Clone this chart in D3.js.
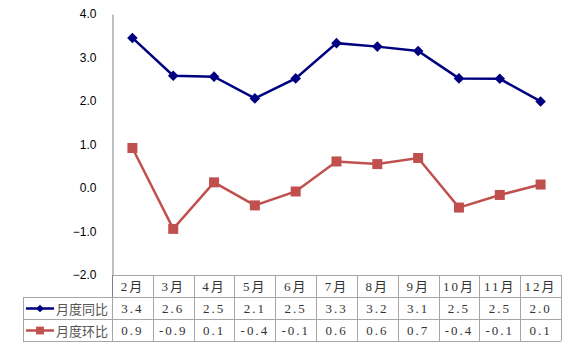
<!DOCTYPE html>
<html>
<head>
<meta charset="utf-8">
<title>月度同比 / 月度环比</title>
<script src="https://d3js.org/d3.v7.min.js"></script>
<style>
  body { margin: 0; background: #fff; }
</style>
</head>
<body>
<script>
var months = ["2月", "3月", "4月", "5月", "6月", "7月", "8月", "9月", "10月", "11月", "12月"];
var yoy = [3.45, 2.58, 2.56, 2.06, 2.52, 3.33, 3.25, 3.15, 2.52, 2.51, 1.99];
var mom = [0.92, -0.94, 0.13, -0.40, -0.08, 0.61, 0.55, 0.69, -0.45, -0.16, 0.08];
var yoyLabels = ["3.4", "2.6", "2.5", "2.1", "2.5", "3.3", "3.2", "3.1", "2.5", "2.5", "2.0"];
var momLabels = ["0.9", "-0.9", "0.1", "-0.4", "-0.1", "0.6", "0.6", "0.7", "-0.4", "-0.1", "0.1"];
var yTicks = [-2, -1, 0, 1, 2, 3, 4];

var w = 576, h = 350;
var plotLeft = 112, plotRight = 561, plotTop = 14, plotBottom = 275;
var rowH = 22;
var legendLeft = 23;
var blue = "#000080", red = "#C0504D", grid = "#a6a6a6";

var svg = d3.select("body").append("svg")
    .attr("width", w)
    .attr("height", h);

var x = d3.scaleBand().domain(months).range([plotLeft, plotRight]);
var y = d3.scaleLinear().domain([-2, 4]).range([plotBottom, plotTop]);

// y axis
var yAxis = svg.append("g")
    .attr("transform", "translate(" + (plotLeft + 0.5) + ",0)")
    .call(d3.axisLeft(y).tickValues(yTicks).tickSize(0).tickPadding(16)
        .tickFormat(d3.format(".1f")));
yAxis.select(".domain").attr("stroke", "#808080");
yAxis.selectAll("text")
    .attr("font-family", "Liberation Sans, Arial, sans-serif")
    .attr("font-size", 12)
    .attr("fill", "#000");

// data table
var table = svg.append("g").attr("fill", "none").attr("stroke", grid).attr("stroke-width", 1);
var r0 = plotBottom, r1 = r0 + rowH, r2 = r1 + rowH, r3 = r2 + rowH;
table.append("line").attr("x1", plotLeft).attr("x2", plotRight).attr("y1", r0 + 0.5).attr("y2", r0 + 0.5);
[r1, r2, r3].forEach(function(r) {
    table.append("line").attr("x1", legendLeft).attr("x2", plotRight).attr("y1", r + 0.5).attr("y2", r + 0.5);
});
months.forEach(function(m) {
    table.append("line")
        .attr("x1", Math.round(x(m)) + 0.5).attr("x2", Math.round(x(m)) + 0.5)
        .attr("y1", r0).attr("y2", r3);
});
table.append("line").attr("x1", plotRight + 0.5).attr("x2", plotRight + 0.5).attr("y1", r0).attr("y2", r3);
table.append("line").attr("x1", legendLeft + 0.5).attr("x2", legendLeft + 0.5).attr("y1", r1).attr("y2", r3);
svg.append("line").attr("x1", plotLeft + 0.5).attr("x2", plotLeft + 0.5).attr("y1", plotBottom).attr("y2", r1)
    .attr("stroke", "#808080");

var cellFont = "'Liberation Serif', 'Noto Sans CJK SC', serif";
function rowText(labels, r) {
    svg.append("g").selectAll("text")
        .data(labels)
        .enter()
        .append("text")
        .text(function(d) { return d; })
        .attr("x", function(d, i) { return x(months[i]) + x.bandwidth() / 2; })
        .attr("y", r + rowH / 2 + 5)
        .attr("text-anchor", "middle")
        .attr("font-family", cellFont)
        .attr("font-size", 13)
        .attr("letter-spacing", 2)
        .attr("fill", "#333");
}
rowText(months, r0);
rowText(yoyLabels, r1);
rowText(momLabels, r2);

// diamond = square turned 45 degrees
var diamond = { name: "diamond", shape: d3.symbolSquare, rot: 45 };
var square = { name: "square", shape: d3.symbolSquare, rot: 0 };

// legend cells
var legend = [
    { name: "月度同比", color: blue, marker: diamond, size: 30, r: r1 },
    { name: "月度环比", color: red, marker: square, size: 60, r: r2 }
];
legend.forEach(function(l) {
    var cy = l.r + rowH / 2 + 0.5;
    svg.append("line").attr("x1", 26).attr("x2", 54).attr("y1", cy).attr("y2", cy)
        .attr("stroke", l.color).attr("stroke-width", 2.5);
    svg.append("path").attr("d", d3.symbol().type(l.marker.shape).size(l.size)())
        .attr("transform", "translate(40," + cy + ") rotate(" + l.marker.rot + ")")
        .attr("fill", l.color);
    svg.append("text").text(l.name)
        .attr("x", 56).attr("y", cy + 5)
        .attr("font-family", "'Noto Sans CJK SC', sans-serif")
        .attr("font-size", 13)
        .attr("fill", "#555");
});

// lines
var line = d3.line()
    .x(function(d, i) { return x(months[i]) + x.bandwidth() / 2; })
    .y(function(d) { return y(d); });

function drawSeries(data, color, marker, size) {
    svg.append("path").datum(data)
        .attr("d", line)
        .attr("fill", "none")
        .attr("stroke", color)
        .attr("stroke-width", 2.5);
    svg.append("g").selectAll("path")
        .data(data)
        .enter()
        .append("path")
        .attr("d", d3.symbol().type(marker.shape).size(size)())
        .attr("transform", function(d, i) {
            return "translate(" + (x(months[i]) + x.bandwidth() / 2) + "," + y(d) + ") rotate(" + marker.rot + ")";
        })
        .attr("fill", color);
}
drawSeries(yoy, blue, diamond, 56);
drawSeries(mom, red, square, 100);
</script>
</body>
</html>
